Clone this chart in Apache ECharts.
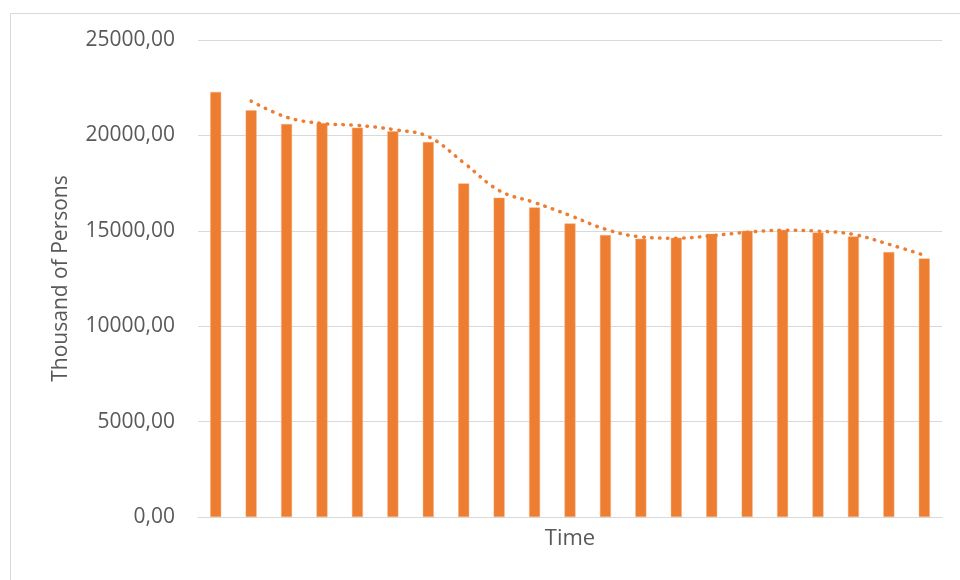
<!DOCTYPE html>
<html>
<head>
<meta charset="utf-8">
<style>
  html, body { margin: 0; padding: 0; background: #ffffff; }
  #chart { width: 960px; height: 580px; }
</style>
<script src="https://cdn.jsdelivr.net/npm/echarts@6/dist/echarts.min.js"></script>
</head>
<body>
<div id="chart"></div>
<script>
// Periods on the time axis (unlabelled)
const periods = ['1','2','3','4','5','6','7','8','9','10','11','12','13','14','15','16','17','18','19','20','21'];

// Thousand of persons per period
const persons = [22280, 21315, 20600, 20650, 20405, 20215, 19655, 17485, 16735, 16225, 15387,
                 14778, 14584, 14636, 14846, 15003, 15050, 14915, 14705, 13886, 13550];

// Two-period moving-average trendline (no value for the first period)
const trend = [null, 21798, 20958, 20625, 20528, 20310, 19935, 18570, 17110, 16480, 15806,
               15083, 14681, 14610, 14741, 14925, 15027, 14983, 14810, 14296, 13718];

// Value-axis ticks
const yTicks = [0, 5000, 10000, 15000, 20000, 25000];

const FONT = '"Open Sans", "DejaVu Sans", sans-serif';
const ORANGE = '#ED7D31';

const chart = echarts.init(document.getElementById('chart'), null, { renderer: 'canvas' });

chart.setOption({
  animation: false,
  backgroundColor: '#ffffff',
  graphic: [{
    type: 'rect',
    left: 8, top: 11,
    shape: { width: 1000, height: 1000 },
    style: { fill: 'none', stroke: '#d9d9d9', lineWidth: 1 },
    silent: true
  }],
  grid: { left: 198, right: 18, top: 40, bottom: 63, containLabel: false },
  xAxis: {
    type: 'category',
    data: periods,
    name: 'Time',
    nameLocation: 'middle',
    nameGap: 11,
    nameTextStyle: { color: '#595959', fontSize: 22, fontFamily: FONT },
    axisLine: { show: true, lineStyle: { color: '#d9d9d9', width: 1 } },
    axisTick: { show: false },
    axisLabel: { show: false },
    splitLine: { show: false }
  },
  yAxis: {
    type: 'value',
    min: yTicks[0],
    max: yTicks[yTicks.length - 1],
    interval: yTicks[1] - yTicks[0],
    name: 'Thousand of Persons',
    nameLocation: 'middle',
    nameRotate: 90,
    nameGap: 126,
    nameTextStyle: { color: '#595959', fontSize: 21, fontFamily: FONT },
    axisLine: { show: false },
    axisTick: { show: false },
    axisLabel: {
      color: '#595959',
      fontSize: 21,
      fontFamily: FONT,
      margin: 23,
      formatter: v => v.toFixed(2).replace('.', ',')
    },
    splitLine: { show: true, lineStyle: { color: '#d9d9d9', width: 1 } }
  },
  series: [
    {
      type: 'bar',
      data: persons,
      barWidth: 11,
      itemStyle: { color: ORANGE, borderColor: '#f4b183', borderWidth: 0.5 }
    },
    {
      type: 'line',
      data: trend,
      smooth: 0.4,
      connectNulls: false,
      showSymbol: false,
      symbol: 'none',
      lineStyle: { color: ORANGE, width: 3.5, type: [0.5, 7.5], cap: 'round' },
      z: 3
    }
  ]
});
</script>
</body>
</html>
